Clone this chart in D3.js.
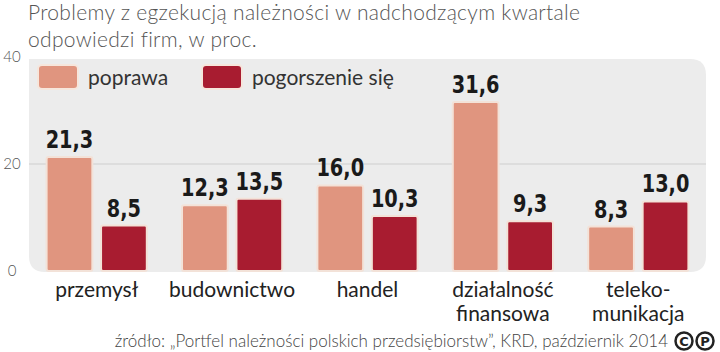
<!DOCTYPE html>
<html>
<head>
<meta charset="utf-8">
<script src="https://cdn.jsdelivr.net/npm/d3@7"></script>
<style>
  body { margin: 0; background: #fff; }
  svg { display: block; }
  text { font-family: "DejaVu Sans Condensed", "Roboto", sans-serif; }
</style>
</head>
<body>
<svg id="chart"></svg>
<script>
// data
const categories = [["przemysł"], ["budownictwo"], ["handel"], ["działalność", "finansowa"], ["teleko-", "munikacja"]];
const poprawa = [21.3, 12.3, 16.0, 31.6, 8.3];
const pogorszenie = [8.5, 13.5, 10.3, 9.3, 13.0];
const seriesNames = ["poprawa", "pogorszenie się"];
const yTicks = [0, 20, 40];

const width = 720, height = 352;
const svg = d3.select("#chart").attr("width", width).attr("height", height);

const colors = ["#e0957f", "#a81c30"];

const x0 = d3.scaleBand().domain(d3.range(categories.length)).range([29, 706]).paddingInner(0.26).paddingOuter(0.13);
const x1 = d3.scaleBand().domain([0, 1]).range([0, x0.bandwidth()]).paddingInner(0.16);
const y = d3.scaleLinear().domain([0, 40]).range([271, 57]);

// panel background
svg.append("path")
  .attr("fill", "#ececec")
  .attr("d", () => {
    const l = 29, r = 706, t = 59, b = 272, rr = 16;
    return `M${l},${t} L${r - rr},${t} Q${r},${t} ${r},${t + rr} L${r},${b - rr} Q${r},${b} ${r - rr},${b} L${l + rr},${b} Q${l},${b} ${l},${b - rr} Z`;
  });

// gridline at 20
svg.append("g").selectAll("line")
  .data(yTicks.filter(d => d === 20))
  .join("line")
  .attr("x1", 29).attr("x2", 706)
  .attr("y1", d => y(d)).attr("y2", d => y(d))
  .attr("stroke", "#d8d8d8").attr("stroke-width", 1.5);

// y axis labels
svg.append("g").selectAll("text")
  .data(yTicks)
  .join("text")
  .attr("x", 12).attr("y", d => y(d) + 5)
  .attr("text-anchor", "middle")
  .attr("font-size", 15)
  .attr("fill", "#555")
  .style("font-family", "Lato, sans-serif")
  .style("font-weight", 300)
  .text(d => d);

// title
const title = svg.append("text").attr("x", 28).attr("fill", "#555").attr("font-size", 21)
  .style("font-family", "Lato, sans-serif").style("font-weight", 300).style("letter-spacing", "0.3px");
title.append("tspan").attr("x", 28).attr("y", 20).text("Problemy z egzekucją należności w nadchodzącym kwartale");
title.append("tspan").attr("x", 28).attr("y", 47).text("odpowiedzi firm, w proc.");

// legend
const legend = svg.append("g");
const legendX = [38, 202];
seriesNames.forEach((name, i) => {
  legend.append("rect")
    .attr("x", legendX[i]).attr("y", 65).attr("width", 40).attr("height", 24).attr("rx", 4)
    .attr("fill", colors[i]).attr("stroke", "#f6e6dc").attr("stroke-width", 2);
  legend.append("text")
    .attr("x", legendX[i] + 50).attr("y", 85)
    .attr("font-size", 21).attr("fill", "#333")
    .style("font-family", "Lato, sans-serif")
    .text(name);
});

// bars
const groups = svg.append("g").selectAll("g")
  .data(categories.map((c, i) => ({ i, vals: [poprawa[i], pogorszenie[i]] })))
  .join("g")
  .attr("transform", d => `translate(${x0(d.i)},0)`);

groups.selectAll("rect")
  .data(d => d.vals.map((v, s) => ({ v, s })))
  .join("rect")
  .attr("x", d => x1(d.s))
  .attr("width", x1.bandwidth())
  .attr("y", d => y(d.v))
  .attr("height", d => y(0) - y(d.v))
  .attr("rx", 2)
  .attr("fill", d => colors[d.s])
  .attr("stroke", "#f3e2d8")
  .attr("stroke-width", 2);

groups.selectAll("text.val")
  .data(d => d.vals.map((v, s) => ({ v, s })))
  .join("text")
  .attr("class", "val")
  .attr("transform", d => `translate(${x1(d.s) + x1.bandwidth() / 2},${y(d.v) - 9}) scale(0.86,1)`)
  .attr("text-anchor", "middle")
  .attr("font-size", 25)
  .attr("font-weight", "bold")
  .attr("fill", "#1a1a1a")
  .text(d => d3.format(".1f")(d.v).replace(".", ","));

// category labels
groups.append("text")
  .attr("x", x0.bandwidth() / 2)
  .attr("text-anchor", "middle")
  .attr("font-size", 21)
  .attr("fill", "#222")
  .style("font-family", "Lato, sans-serif")
  .selectAll("tspan")
  .data((d) => categories[d.i])
  .join("tspan")
  .attr("x", x0.bandwidth() / 2)
  .attr("y", (d, k) => 297 + k * 24)
  .text(d => d);

// source
svg.append("text")
  .attr("x", 668).attr("y", 347)
  .attr("text-anchor", "end")
  .attr("font-size", 17)
  .attr("fill", "#444")
  .style("font-family", "Lato, sans-serif")
  .style("font-weight", 300)
  .text("źródło: „Portfel należności polskich przedsiębiorstw”, KRD, październik 2014");

// CC / P icon
[["C", 684], ["P", 705]].forEach(([ch, cx]) => {
  svg.append("circle").attr("cx", cx).attr("cy", 341).attr("r", 8.5)
    .attr("fill", "#fff").attr("stroke", "#222").attr("stroke-width", 2.5);
  svg.append("text").attr("x", cx).attr("y", 346).attr("text-anchor", "middle")
    .attr("font-size", 13).attr("font-weight", "bold").attr("fill", "#222")
    .style("font-family", "DejaVu Sans, sans-serif").text(ch);
});
</script>
</body>
</html>
